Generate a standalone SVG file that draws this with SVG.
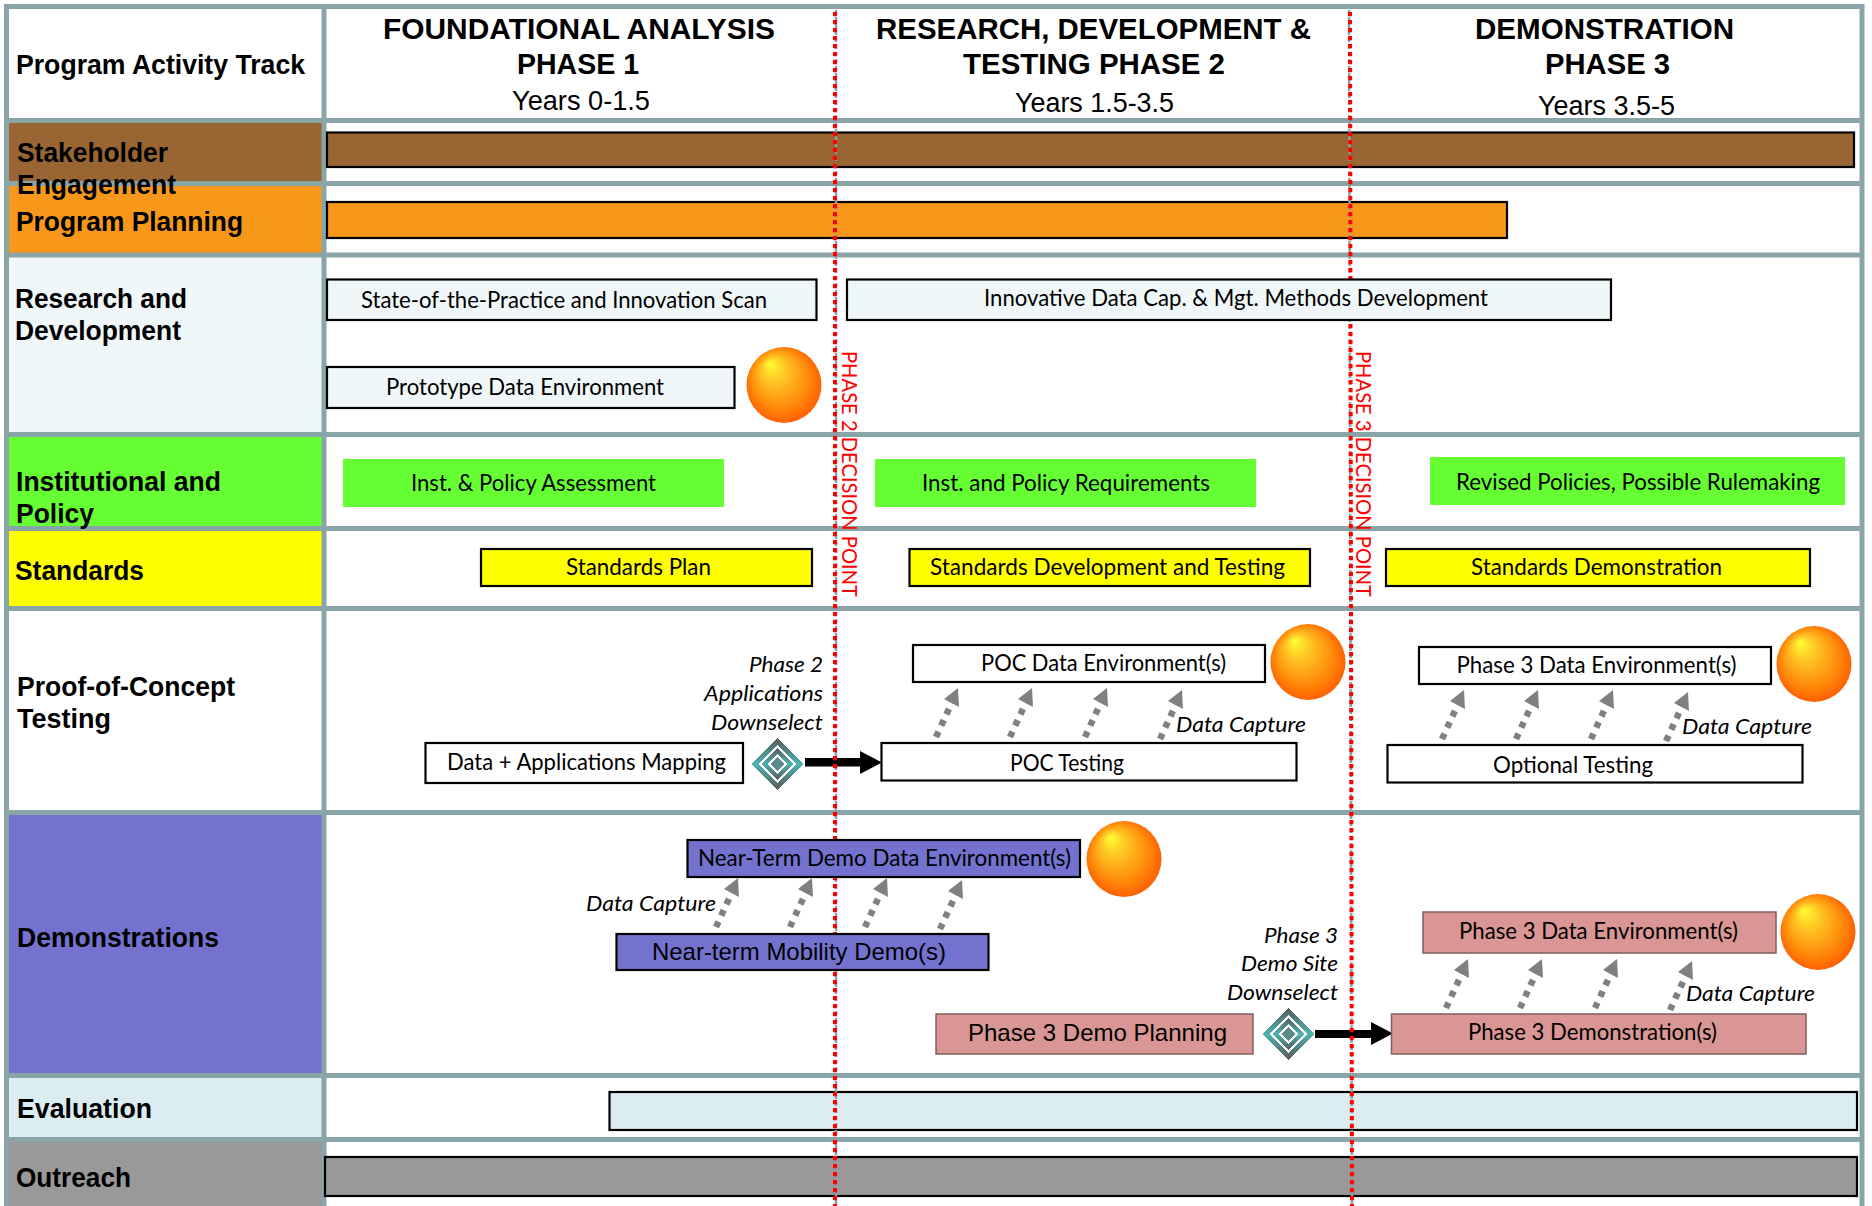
<svg xmlns="http://www.w3.org/2000/svg" xmlns:xlink="http://www.w3.org/1999/xlink" width="1872" height="1206" viewBox="0 0 1872 1206">
<style>
.g{stroke:#8aa5a8;stroke-width:5;fill:none}
.b{stroke:#000;stroke-width:2.2}
.h{font:bold 29px "Liberation Sans",Arial,sans-serif;fill:#000;text-anchor:start}
.y{font:27px "Liberation Sans",Arial,sans-serif;fill:#000}
.l{font:bold 27px "Liberation Sans",Arial,sans-serif;fill:#000}
.t{font:23px Lato,"Open Sans",sans-serif;fill:#000}
.a{font:24px "Liberation Sans",Arial,sans-serif;fill:#000}
.i{font:italic 22px Lato,"Open Sans",sans-serif;fill:#000}
.r{font:21px Lato,"Open Sans",sans-serif;fill:#f00}
.dash{stroke:#f00;stroke-width:4;stroke-dasharray:4.3 3.7;fill:none}
.dashg{stroke:#8aa5a8;stroke-width:2.500;stroke-dasharray:4 3;fill:none}
.cap{stroke:#808080;stroke-width:6.500;stroke-dasharray:6 6.500;fill:none}
.ch{fill:#808080}
.sph{fill:url(#sg)}
</style>
<defs>
<radialGradient id="sg" cx="0.5" cy="0.5" r="0.55" fx="0.31" fy="0.21">
<stop offset="0" stop-color="#ffff33"/><stop offset="0.3" stop-color="#ffc524"/><stop offset="0.7" stop-color="#ff8a0a"/><stop offset="1" stop-color="#ff5500"/>
</radialGradient>
<linearGradient id="dg" x1="0" y1="0" x2="0" y2="1">
<stop offset="0" stop-color="#595959"/><stop offset="0.5" stop-color="#4fb3b3"/><stop offset="1" stop-color="#595959"/>
</linearGradient>
<g id="dia" shape-rendering="crispEdges">
<polygon points="0,-26 26,0 0,26 -26,0" fill="url(#dg)"/>
<polygon points="0,-19 19,0 0,19 -19,0" fill="#fff"/>
<polygon points="0,-16 16,0 0,16 -16,0" fill="url(#dg)"/>
<polygon points="0,-10 10,0 0,10 -10,0" fill="#fff"/>
<polygon points="0,-7 7,0 0,7 -7,0" fill="#5f8a8c"/>
</g>
<g id="caps">
<path class="cap" d="M0 49 L17 12"/><polygon class="ch" points="22,0 8,11 23,19"/>
<path class="cap" d="M74 49 L91 12"/><polygon class="ch" points="96,0 82,11 97,19"/>
<path class="cap" d="M149 49 L166 12"/><polygon class="ch" points="171,0 157,11 172,19"/>
<path class="cap" d="M224 51 L241 14"/><polygon class="ch" points="246,2 232,13 247,21"/>
</g>
</defs>
<rect width="1872" height="1206" fill="#fff"/>

<g id="row-fills">
<rect x="9" y="123" width="313" height="58" fill="#996633"/>
<rect x="9" y="186" width="313" height="67" fill="#f7981a"/>
<rect x="9" y="257" width="313" height="175" fill="#f0f7f9"/>
<rect x="9" y="437" width="313" height="89" fill="#66ff33"/>
<rect x="9" y="531" width="313" height="75" fill="#ffff00"/>
<rect x="9" y="815" width="313" height="258" fill="#7373cf"/>
<rect x="9" y="1078" width="313" height="59" fill="#dbedf0"/>
<rect x="9" y="1142" width="313" height="64" fill="#999999"/>
</g>
<g id="grid">
<path class="g" d="M4 6.5H1864M4 120.5H1864M4 183.5H1864M4 255H1864M4 434.5H1864M4 528.5H1864M4 608.5H1864M4 812.5H1864M4 1075.5H1864M4 1139.5H1864"/>
<path class="g" d="M6.500 4V1206M324 4V1206M1862 4V1206"/>
</g>

<g id="header">
<text class="l" x="16" y="74" textLength="289" lengthAdjust="spacingAndGlyphs">Program Activity Track</text>
<text class="h" x="383" y="39" textLength="392" lengthAdjust="spacingAndGlyphs">FOUNDATIONAL ANALYSIS</text>
<text class="h" x="517" y="74" textLength="122" lengthAdjust="spacingAndGlyphs">PHASE 1</text>
<text class="y" x="512" y="110" textLength="138" lengthAdjust="spacingAndGlyphs">Years 0-1.5</text>
<text class="h" x="876" y="39" textLength="435" lengthAdjust="spacingAndGlyphs">RESEARCH, DEVELOPMENT &amp;</text>
<text class="h" x="963" y="74" textLength="262" lengthAdjust="spacingAndGlyphs">TESTING PHASE 2</text>
<text class="y" x="1015" y="112" textLength="159" lengthAdjust="spacingAndGlyphs">Years 1.5-3.5</text>
<text class="h" x="1475" y="39" textLength="259" lengthAdjust="spacingAndGlyphs">DEMONSTRATION</text>
<text class="h" x="1545" y="74" textLength="125" lengthAdjust="spacingAndGlyphs">PHASE 3</text>
<text class="y" x="1538" y="115" textLength="137" lengthAdjust="spacingAndGlyphs">Years 3.5-5</text>
</g>

<g id="bars-under">
<rect id="bar-stakeholder" class="b" x="327" y="132.500" width="1527" height="34.500" fill="#996633"/>
<rect id="bar-planning" class="b" x="327" y="202" width="1180" height="36" fill="#f7981a"/>
<rect id="bar-evaluation" class="b" x="609.500" y="1092" width="1247.500" height="38" fill="#dbedf0"/>
<rect id="bar-outreach" class="b" x="325" y="1157" width="1532" height="39" fill="#999999"/>
</g>

<g id="connectors">
<path class="dashg" d="M836 10V1206M1349 10L1352 1206"/>
<rect x="805" y="758" width="56" height="8.500" fill="#000"/>
<polygon points="860,751 882,762.500 860,774" fill="#000"/>
<rect x="1315" y="1030" width="57" height="8" fill="#000"/>
<polygon points="1371,1022 1393,1033.500 1371,1045" fill="#000"/>
<path class="dash" d="M835 12V1206M1350 12L1352 1206"/>
<use xlink:href="#caps" href="#caps" x="936" y="688"/>
<use xlink:href="#caps" href="#caps" x="1442" y="690"/>
<use xlink:href="#caps" href="#caps" x="716" y="878"/>
<use xlink:href="#caps" href="#caps" x="1446" y="959"/>
</g>

<g id="labels">
<text class="l" x="17" y="162" textLength="151" lengthAdjust="spacingAndGlyphs">Stakeholder</text>
<text class="l" x="17" y="194" textLength="159" lengthAdjust="spacingAndGlyphs">Engagement</text>
<text class="l" x="16" y="231" textLength="227" lengthAdjust="spacingAndGlyphs">Program Planning</text>
<text class="l" x="15" y="308" textLength="172" lengthAdjust="spacingAndGlyphs">Research and</text>
<text class="l" x="15" y="340" textLength="166" lengthAdjust="spacingAndGlyphs">Development</text>
<text class="l" x="16" y="491" textLength="205" lengthAdjust="spacingAndGlyphs">Institutional and</text>
<text class="l" x="16" y="523" textLength="78" lengthAdjust="spacingAndGlyphs">Policy</text>
<text class="l" x="15" y="580" textLength="129" lengthAdjust="spacingAndGlyphs">Standards</text>
<text class="l" x="17" y="696" textLength="218" lengthAdjust="spacingAndGlyphs">Proof-of-Concept</text>
<text class="l" x="17" y="728" textLength="94" lengthAdjust="spacingAndGlyphs">Testing</text>
<text class="l" x="17" y="947" textLength="202" lengthAdjust="spacingAndGlyphs">Demonstrations</text>
<text class="l" x="17" y="1118" textLength="135" lengthAdjust="spacingAndGlyphs">Evaluation</text>
<text class="l" x="16" y="1187" textLength="115" lengthAdjust="spacingAndGlyphs">Outreach</text>
</g>

<g id="scan"><rect class="b" x="327" y="279.500" width="489.500" height="40.500" fill="#f0f7f9"/><text class="t" x="361" y="308" textLength="406" lengthAdjust="spacingAndGlyphs">State-of-the-Practice and Innovation Scan</text></g>
<g id="innov"><rect class="b" x="847" y="279.500" width="764" height="40.500" fill="#f0f7f9"/><text class="t" x="984" y="306" textLength="504" lengthAdjust="spacingAndGlyphs">Innovative Data Cap. &amp; Mgt. Methods Development</text></g>
<g id="proto"><rect class="b" x="327" y="367" width="407.500" height="41" fill="#f0f7f9"/><text class="t" x="386" y="395" textLength="278" lengthAdjust="spacingAndGlyphs">Prototype Data Environment</text></g>
<g id="sphere1"><ellipse class="sph" cx="784" cy="385" rx="37.500" ry="38"/></g>

<g id="inst1"><rect x="343" y="459" width="381" height="48" fill="#66ff33"/><text class="t" x="411" y="491" textLength="245" lengthAdjust="spacingAndGlyphs">Inst. &amp; Policy Assessment</text></g>
<g id="inst2"><rect x="875" y="459" width="381" height="48" fill="#66ff33"/><text class="t" x="922" y="491" textLength="288" lengthAdjust="spacingAndGlyphs">Inst. and Policy Requirements</text></g>
<g id="inst3"><rect x="1430" y="457" width="415" height="48" fill="#66ff33"/><text class="t" x="1456" y="490" textLength="364" lengthAdjust="spacingAndGlyphs">Revised Policies, Possible Rulemaking</text></g>

<g id="std1"><rect class="b" x="481" y="549" width="331" height="37" fill="#ffff00"/><text class="t" x="566" y="575" textLength="145" lengthAdjust="spacingAndGlyphs">Standards Plan</text></g>
<g id="std2"><rect class="b" x="909.500" y="549" width="400.500" height="37" fill="#ffff00"/><text class="t" x="930" y="575" textLength="355" lengthAdjust="spacingAndGlyphs">Standards Development and Testing</text></g>
<g id="std3"><rect class="b" x="1386" y="549" width="424" height="37" fill="#ffff00"/><text class="t" x="1471" y="575" textLength="251" lengthAdjust="spacingAndGlyphs">Standards Demonstration</text></g>

<g id="mapping"><rect class="b" x="425.500" y="743" width="317.500" height="40" fill="#fff"/><text class="t" x="447" y="770" textLength="279" lengthAdjust="spacingAndGlyphs">Data + Applications Mapping</text></g>
<g id="downselect1"><use xlink:href="#dia" href="#dia" x="777.500" y="764"/>
<text class="i" x="749" y="672" textLength="74" lengthAdjust="spacingAndGlyphs">Phase 2</text>
<text class="i" x="704" y="701" textLength="119" lengthAdjust="spacingAndGlyphs">Applications</text>
<text class="i" x="711" y="730" textLength="112" lengthAdjust="spacingAndGlyphs">Downselect</text></g>
<g id="poc-test"><rect class="b" x="881.500" y="743" width="415" height="37.500" fill="#fff"/><text class="t" x="1010" y="771" textLength="114" lengthAdjust="spacingAndGlyphs">POC Testing</text></g>
<g id="poc-data"><rect class="b" x="913" y="645" width="352" height="37" fill="#fff"/><text class="t" x="981" y="671" textLength="245" lengthAdjust="spacingAndGlyphs">POC Data Environment(s)</text></g>
<g id="sphere2"><ellipse class="sph" cx="1308" cy="662" rx="37.500" ry="38"/></g>
<text class="i" x="1176" y="732" textLength="130" lengthAdjust="spacingAndGlyphs">Data Capture</text>

<g id="opt-test"><rect class="b" x="1387.500" y="745" width="415" height="37.500" fill="#fff"/><text class="t" x="1493" y="773" textLength="160" lengthAdjust="spacingAndGlyphs">Optional Testing</text></g>
<g id="p3-data"><rect class="b" x="1419" y="647" width="352" height="37" fill="#fff"/><text class="t" x="1456.500" y="673" textLength="280" lengthAdjust="spacingAndGlyphs">Phase 3 Data Environment(s)</text></g>
<g id="sphere3"><ellipse class="sph" cx="1814" cy="664" rx="37.500" ry="38"/></g>
<text class="i" x="1682" y="734" textLength="130" lengthAdjust="spacingAndGlyphs">Data Capture</text>

<g id="nt-data"><rect class="b" x="687.500" y="840" width="392.500" height="37" fill="#7373cf"/><text class="t" x="698" y="866" textLength="373" lengthAdjust="spacingAndGlyphs">Near-Term Demo Data Environment(s)</text></g>
<g id="sphere4"><ellipse class="sph" cx="1124" cy="859" rx="37.500" ry="38"/></g>
<text class="i" x="586" y="911" textLength="130" lengthAdjust="spacingAndGlyphs">Data Capture</text>
<g id="nt-demo"><rect class="b" x="616.500" y="934" width="372" height="36" fill="#7373cf"/><text class="a" x="652" y="960" textLength="294" lengthAdjust="spacingAndGlyphs">Near-term Mobility Demo(s)</text></g>
<g id="p3-plan"><rect x="936" y="1014" width="317" height="40" fill="#d99694" stroke="#7f5f5e" stroke-width="1.500"/><text class="a" x="968" y="1041" textLength="259" lengthAdjust="spacingAndGlyphs">Phase 3 Demo Planning</text></g>
<g id="downselect2"><use xlink:href="#dia" href="#dia" x="1288" y="1034"/>
<text class="i" x="1264" y="943" textLength="74" lengthAdjust="spacingAndGlyphs">Phase 3</text>
<text class="i" x="1241" y="971" textLength="97" lengthAdjust="spacingAndGlyphs">Demo Site</text>
<text class="i" x="1227" y="1000" textLength="111" lengthAdjust="spacingAndGlyphs">Downselect</text></g>
<g id="p3-demo"><rect x="1391.500" y="1014" width="414.500" height="40" fill="#d99694" stroke="#7f5f5e" stroke-width="1.500"/><text class="t" x="1468" y="1040" textLength="249" lengthAdjust="spacingAndGlyphs">Phase 3 Demonstration(s)</text></g>
<g id="p3-env"><rect x="1423" y="912" width="353" height="41" fill="#d99694" stroke="#7f5f5e" stroke-width="1.500"/><text class="t" x="1459" y="939" textLength="279" lengthAdjust="spacingAndGlyphs">Phase 3 Data Environment(s)</text></g>
<g id="sphere5"><ellipse class="sph" cx="1818" cy="932" rx="37.500" ry="38"/></g>
<text class="i" x="1686" y="1001" textLength="129" lengthAdjust="spacingAndGlyphs">Data Capture</text>

<g id="decision-labels">
<text class="r" transform="translate(842 351) rotate(90)" textLength="246" lengthAdjust="spacingAndGlyphs">PHASE 2 DECISION POINT</text>
<text class="r" transform="translate(1356 351) rotate(90)" textLength="246" lengthAdjust="spacingAndGlyphs">PHASE 3 DECISION POINT</text>
</g>
</svg>
